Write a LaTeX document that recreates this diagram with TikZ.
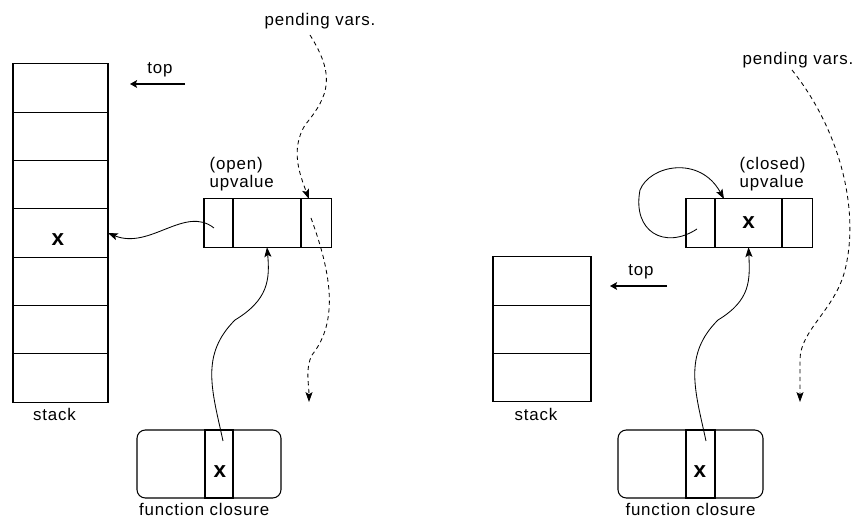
\documentclass[tikz,border=0pt]{standalone}
\usepackage{fontspec}
\setmainfont{Liberation Sans}[LetterSpace=5]
\usetikzlibrary{positioning, calc, arrows.meta}

\begin{document}
\begin{tikzpicture}[
    x=0.025cm, y=-0.025cm,
    node distance=0.1cm,
    cell/.style={rectangle, draw=black, line width=0.75pt, inner sep=0pt, outer sep=0pt, minimum height=1.21cm},
    closure/.style={rectangle, rounded corners=6pt, draw=black, line width=0.75pt, outer sep=0pt, minimum width=3.6cm, minimum height=1.7cm},
    lbl/.style={font=\fontsize{12}{13}\selectfont, inner sep=1pt},
    var/.style={font=\fontsize{16}{16}\selectfont\bfseries, inner sep=0pt},
    ptr/.style={-{Stealth[length=7pt, width=5pt, inset=1.5pt]}, line width=0.6pt},
    pending/.style={ptr, dash pattern=on 3pt off 2.5pt},
    toparrow/.style={-{Stealth[length=5pt, width=5.5pt, inset=1pt]}, line width=1.8pt}
]
    \useasboundingbox (0,0) rectangle (858,518);

    % Left stack
    \foreach \i in {1,...,7} {
        \node[cell, minimum width=2.375cm] (ls-\i) at (60.5, {64+(\i-0.5)*48.3}) {};
    }
    \node[var] (ls-val) at (58, 240) {x};
    \node[lbl, below=0.12cm of ls-7, xshift=-0.15cm] (ls-name) {stack};

    \node[lbl] (ls-top) at (160, 70) {top};
    \coordinate (ls-top-from) at (185, 84);
    \coordinate (ls-top-to) at (130, 84);
    \draw[toparrow] (ls-top-from) -- (ls-top-to);

    % Open upvalue
    \node[cell, minimum width=0.725cm] (ou-1) at (218.5, 223) {};
    \node[cell, minimum width=1.7cm, right=0pt of ou-1] (ou-2) {};
    \node[cell, minimum width=0.75cm, right=0pt of ou-2] (ou-3) {};
    \node[lbl, align=left, anchor=south west] (ou-name) at (208, 193) {(open)\\upvalue};

    % Function closure (left)
    \node[closure] (lc) at (209, 464) {};
    \node[cell, minimum width=0.7cm, minimum height=1.7cm] (lc-x) at (219, 464) {};
    \node[var] (lc-val) at (220, 472) {x};
    \node[lbl, below=0.1cm of lc, xshift=-0.12cm] (lc-name) {function closure};

    % Pointers (left)
    \coordinate (ou-from) at (214, 228);
    \draw[ptr] (ou-from) .. controls (185,205) and (150,250) .. (ls-4.east);

    \coordinate (lc-from) at (223, 441);
    \draw[ptr] (lc-from) .. controls (212,390) and (200,355) .. (235,320)
        .. controls (268,300) and (270,280) .. (ou-2.south);

    % Pending vars (left)
    \node[lbl] (lpv) at (320, 21) {pending vars.};
    \coordinate (lpv-from) at (310, 35);
    \coordinate (lpv-in) at (309, 199);
    \coordinate (lpv-out) at (311, 218);
    \coordinate (lpv-end) at (309, 402);
    \draw[pending] (lpv-from) .. controls (335,75) and (330,95) .. (305,125)
        .. controls (290,150) and (300,175) .. (lpv-in);
    \draw[pending] (lpv-out) .. controls (330,270) and (340,320) .. (312,355)
        .. controls (305,368) and (309,385) .. (lpv-end);

    % Right stack
    \foreach \i in {1,2,3} {
        \node[cell, minimum width=2.45cm] (rs-\i) at (542, {257+(\i-0.5)*48.3}) {};
    }
    \node[lbl, below=0.12cm of rs-3, xshift=-0.15cm] (rs-name) {stack};

    \node[lbl] (rs-top) at (641, 272) {top};
    \coordinate (rs-top-from) at (667, 286);
    \coordinate (rs-top-to) at (610, 286);
    \draw[toparrow] (rs-top-from) -- (rs-top-to);

    % Closed upvalue
    \node[cell, minimum width=0.725cm] (cu-1) at (700.5, 223) {};
    \node[cell, minimum width=1.675cm, right=0pt of cu-1] (cu-2) {};
    \node[cell, minimum width=0.75cm, right=0pt of cu-2] (cu-3) {};
    \node[var] (cu-val) at (cu-2) {x};
    \node[lbl, align=left, anchor=south west] (cu-name) at (738, 193) {(closed)\\upvalue};

    \coordinate (cu-from) at (697, 229);
    \coordinate (cu-in) at (724, 199);
    \draw[ptr] (cu-from) .. controls (665,250) and (632,232) .. (640,190)
        .. controls (650,165) and (700,155) .. (cu-in);

    % Function closure (right)
    \node[closure, minimum width=3.625cm] (rc) at (690.5, 464) {};
    \node[cell, minimum width=0.725cm, minimum height=1.7cm] (rc-x) at (700.5, 464) {};
    \node[var] (rc-val) at (700, 472) {x};
    \node[lbl, below=0.1cm of rc] (rc-name) {function closure};

    \coordinate (rc-from) at (706, 441);
    \draw[ptr] (rc-from) .. controls (695,390) and (683,355) .. (718,320)
        .. controls (751,300) and (750,280) .. (cu-2.south);

    % Pending vars (right)
    \node[lbl] (rpv) at (798, 60) {pending vars.};
    \coordinate (rpv-from) at (792, 70);
    \coordinate (rpv-end) at (800, 402);
    \draw[pending] (rpv-from) .. controls (840,130) and (860,210) .. (845,270)
        .. controls (835,310) and (800,330) .. (800,360) -- (rpv-end);

\end{tikzpicture}
\end{document}
